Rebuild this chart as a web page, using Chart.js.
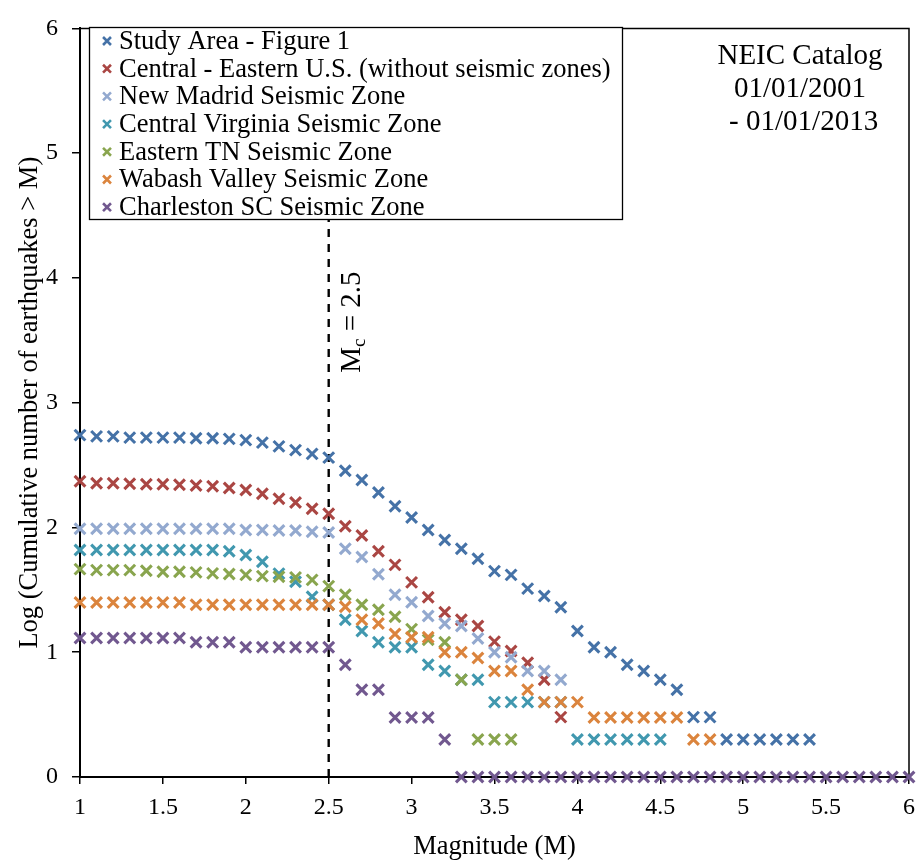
<!DOCTYPE html>
<html>
<head>
<meta charset="utf-8">
<script src="https://cdn.jsdelivr.net/npm/chart.js@4.4.1/dist/chart.umd.min.js"></script>
<style>
  html, body { margin: 0; padding: 0; background: #fff; }
  #wrap { width: 924px; height: 864px; }
</style>
</head>
<body>
<div id="wrap"><canvas id="chart"></canvas></div>
<script>
// Magnitude bins (x values)
const magnitudes = [
  1.0, 1.1, 1.2, 1.3, 1.4, 1.5, 1.6, 1.7, 1.8, 1.9,
  2.0, 2.1, 2.2, 2.3, 2.4, 2.5, 2.6, 2.7, 2.8, 2.9,
  3.0, 3.1, 3.2, 3.3, 3.4, 3.5, 3.6, 3.7, 3.8, 3.9,
  4.0, 4.1, 4.2, 4.3, 4.4, 4.5, 4.6, 4.7, 4.8, 4.9,
  5.0, 5.1, 5.2, 5.3, 5.4, 5.5, 5.6, 5.7, 5.8, 5.9, 6.0
];

// Log cumulative counts (starting at M = 1.0)
const studyArea = [
  2.74, 2.73, 2.73, 2.72, 2.72, 2.72, 2.72, 2.715, 2.715, 2.71,
  2.70, 2.68, 2.65, 2.62, 2.59, 2.56, 2.455, 2.38, 2.28, 2.17,
  2.08, 1.98, 1.90, 1.83, 1.75, 1.65, 1.62, 1.51, 1.45, 1.36,
  1.17, 1.04, 1.00, 0.90, 0.85, 0.78, 0.70, 0.48, 0.48, 0.30,
  0.30, 0.30, 0.30, 0.30, 0.30
];
const centralEastern = [
  2.37, 2.355, 2.355, 2.35, 2.347, 2.347, 2.342, 2.337, 2.33, 2.316,
  2.30, 2.27, 2.23, 2.20, 2.15, 2.11, 2.01, 1.935, 1.81, 1.70,
  1.56, 1.44, 1.32, 1.26, 1.21, 1.085, 1.01, 0.915, 0.78, 0.48
];
const newMadrid = [
  1.99, 1.99, 1.99, 1.99, 1.99, 1.99, 1.99, 1.99, 1.99, 1.99,
  1.98, 1.98, 1.975, 1.975, 1.966, 1.96, 1.83, 1.764, 1.625, 1.46,
  1.40, 1.29, 1.23, 1.21, 1.11, 1.00, 0.96, 0.85, 0.85, 0.78
];
const centralVirginia = [
  1.82, 1.82, 1.82, 1.82, 1.82, 1.82, 1.82, 1.82, 1.82, 1.81,
  1.78, 1.725, 1.63, 1.565, 1.445, 1.38, 1.26, 1.17, 1.08, 1.04,
  1.04, 0.90, 0.85, 0.78, 0.78, 0.60, 0.60, 0.60, 0.60, 0.60,
  0.30, 0.30, 0.30, 0.30, 0.30, 0.30
];
const easternTN = [
  1.666, 1.658, 1.658, 1.658, 1.653, 1.645, 1.645, 1.64, 1.632, 1.627,
  1.62, 1.61, 1.605, 1.60, 1.58, 1.53, 1.46, 1.38, 1.34, 1.285,
  1.185, 1.10, 1.08, 0.78, 0.30, 0.30, 0.30
];
const wabashValley = [
  1.398, 1.398, 1.398, 1.398, 1.398, 1.398, 1.398, 1.38, 1.38, 1.38,
  1.38, 1.38, 1.38, 1.38, 1.38, 1.38, 1.364, 1.26, 1.23, 1.146,
  1.12, 1.12, 1.00, 1.00, 0.954, 0.85, 0.85, 0.70, 0.60, 0.60,
  0.60, 0.477, 0.477, 0.477, 0.477, 0.477, 0.477, 0.30, 0.30
];
const charleston = [
  1.114, 1.114, 1.114, 1.114, 1.114, 1.114, 1.114, 1.08, 1.08, 1.08,
  1.04, 1.04, 1.04, 1.04, 1.04, 1.04, 0.90, 0.70, 0.70, 0.477,
  0.477, 0.477, 0.30, 0, 0, 0, 0, 0, 0, 0,
  0, 0, 0, 0, 0, 0, 0, 0, 0, 0,
  0, 0, 0, 0, 0, 0, 0, 0, 0, 0, 0
];

const seriesNames = [
  "Study Area - Figure 1",
  "Central - Eastern U.S. (without seismic zones)",
  "New Madrid Seismic Zone",
  "Central Virginia Seismic Zone",
  "Eastern TN Seismic Zone",
  "Wabash Valley Seismic Zone",
  "Charleston SC Seismic Zone"
];
const seriesValues = [studyArea, centralEastern, newMadrid, centralVirginia, easternTN, wabashValley, charleston];
const seriesColors = ["#4572A7", "#AA4643", "#93A9CF", "#4198AF", "#89A54E", "#DB843D", "#71588F"];

const completenessMag = 2.5;
const xTicks = [1, 1.5, 2, 2.5, 3, 3.5, 4, 4.5, 5, 5.5, 6];
const yTicks = [0, 1, 2, 3, 4, 5, 6];
const catalogNote = ["NEIC Catalog", "01/01/2001", " - 01/01/2013"];

const SERIF = "'Liberation Serif', 'Times New Roman', serif";

// later series sit on top, as in the original
const datasets = seriesValues.map((vals, i) => ({
  label: seriesNames[i],
  data: vals.map((v, k) => ({ x: magnitudes[k], y: v })),
  showLine: false,
  pointStyle: "crossRot",
  pointRadius: 7.6,
  pointBorderWidth: 3.1,
  pointBorderColor: seriesColors[i],
  pointBackgroundColor: seriesColors[i],
  borderColor: seriesColors[i],
  order: 6 - i,
  clip: false,
}));

// Mc = 2.5 dashed reference line
datasets.push({
  label: "Mc",
  data: [{ x: completenessMag, y: 0 }, { x: completenessMag, y: 6 }],
  showLine: true,
  borderColor: "#000",
  borderWidth: 2.4,
  borderDash: [8, 7],
  pointRadius: 0,
  order: 20,
});

const legendBox = {
  id: "legendBox",
  afterDraw(chart) {
    const ctx = chart.ctx;
    ctx.save();
    // legend
    const left = 89, top = 27, w = 533, h = 192;
    ctx.fillStyle = "#fff";
    ctx.fillRect(left, top, w, h);
    ctx.strokeStyle = "#000";
    ctx.lineWidth = 1.3;
    ctx.strokeRect(left + 0.5, top + 0.5, w, h);
    ctx.font = "26.5px " + SERIF;
    ctx.textBaseline = "middle";
    ctx.textAlign = "left";
    seriesNames.forEach((name, i) => {
      const y = 41 + i * 27.7;
      ctx.strokeStyle = seriesColors[i];
      ctx.fillStyle = seriesColors[i];
      ctx.lineWidth = 2.6;
      Chart.helpers.drawPoint(ctx, { pointStyle: "crossRot", radius: 5.6, borderWidth: 2.6 }, 107, y);
      ctx.fillStyle = "#000";
      ctx.fillText(name, 119, y + 1);
    });

    // catalog note
    ctx.font = "29px " + SERIF;
    ctx.textAlign = "center";
    catalogNote.forEach((line, i) => {
      ctx.fillText(line, 800, 56 + i * 33);
    });

    // Mc label, rotated
    const xs = chart.scales.x, ys = chart.scales.y;
    const px = xs.getPixelForValue(completenessMag) + 31;
    const py = ys.getPixelForValue(3.24);
    ctx.translate(px, py);
    ctx.rotate(-Math.PI / 2);
    ctx.textAlign = "left";
    ctx.textBaseline = "alphabetic";
    ctx.font = "29px " + SERIF;
    ctx.fillText("M", 0, 0);
    const mW = ctx.measureText("M").width;
    ctx.font = "19px " + SERIF;
    ctx.fillText("c", mW, 5);
    const cW = ctx.measureText("c").width;
    ctx.font = "29px " + SERIF;
    ctx.fillText(" = 2.5", mW + cW, 0);
    ctx.restore();
  },
};

const frame = {
  id: "frame",
  beforeDatasetsDraw(chart) {
    const { ctx, chartArea: a } = chart;
    ctx.save();
    ctx.strokeStyle = "#000";
    ctx.lineWidth = 1.5;
    ctx.beginPath();
    ctx.moveTo(a.left, a.top);
    ctx.lineTo(a.right, a.top);
    ctx.lineTo(a.right, a.bottom);
    ctx.stroke();
    ctx.restore();
  },
};

new Chart(document.getElementById("chart"), {
  type: "scatter",
  data: { datasets },
  plugins: [frame, legendBox],
  options: {
    responsive: true,
    maintainAspectRatio: false,
    animation: false,
    layout: { padding: { top: 16, right: 13, left: 0, bottom: 0 } },
    plugins: { legend: { display: false }, tooltip: { enabled: false } },
    scales: {
      x: {
        type: "linear",
        min: 1,
        max: 6,
        afterBuildTicks: (s) => { s.ticks = xTicks.map((v) => ({ value: v })); },
        afterFit: (s) => { s.height = 87; },
        ticks: {
          color: "#000",
          font: { family: SERIF, size: 24 },
          padding: 9,
          maxRotation: 0,
          callback: (v) => String(v),
        },
        grid: { drawOnChartArea: false, drawTicks: true, tickLength: 7, color: "#000", lineWidth: 1.5 },
        border: { display: true, color: "#000", width: 2 },
        title: {
          display: true,
          text: "Magnitude (M)",
          color: "#000",
          font: { family: SERIF, size: 26.5 },
          padding: { top: 0, bottom: 1 },
        },
      },
      y: {
        type: "linear",
        min: 0,
        max: 6,
        afterBuildTicks: (s) => { s.ticks = yTicks.map((v) => ({ value: v })); },
        afterFit: (s) => { s.width = 80; },
        ticks: {
          color: "#000",
          font: { family: SERIF, size: 24 },
          padding: 14,
        },
        grid: { drawOnChartArea: false, drawTicks: true, tickLength: 8, color: "#000", lineWidth: 1.5 },
        border: { display: true, color: "#000", width: 2 },
        title: {
          display: true,
          text: "Log (Cumulative number of earthquakes > M)",
          color: "#000",
          font: { family: SERIF, size: 26.5 },
          padding: { top: 14, bottom: 0 },
        },
      },
    },
  },
});
</script>
</body>
</html>
